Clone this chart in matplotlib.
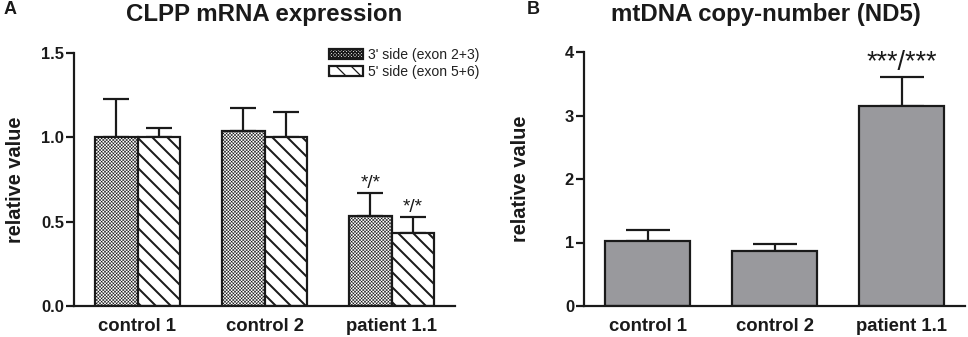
import matplotlib
matplotlib.use("Agg")
import matplotlib.pyplot as plt
import numpy as np

plt.rcParams['font.family'] = ['Liberation Sans', 'DejaVu Sans']

# ---- data ----
categories = ["control 1", "control 2", "patient 1.1"]
series_names = ["3' side (exon 2+3)", "5' side (exon 5+6)"]
clpp_3 = [1.00, 1.035, 0.533]
clpp_3_err = [0.225, 0.14, 0.134]
clpp_5 = [1.00, 1.00, 0.434]
clpp_5_err = [0.055, 0.148, 0.093]
clpp_sig = ["", "", "*/*"]
mt_vals = [1.02, 0.874, 3.145]
mt_err = [0.17, 0.10, 0.455]
mt_sig = ["", "", "***/***"]
title_a = "CLPP mRNA expression"
title_b = "mtDNA copy-number (ND5)"
ylabel = "relative value"
yticks_a = [0.0, 0.5, 1.0, 1.5]
yticks_b = [0, 1, 2, 3, 4]

W, H, DPI = 968, 337, 90
fig = plt.figure(figsize=(W / DPI, H / DPI), dpi=DPI)

def pt(px):
    return px * 72.0 / DPI

def px_axes(l, r, t, b):
    return fig.add_axes([l / W, 1 - b / H, (r - l) / W, (b - t) / H])

axA = px_axes(74, 455, 53, 306)
axB = px_axes(584, 965, 52, 306)

lw = pt(2.2)
ink = "#1a1a1a"
gray = "#99999d"

def style(ax, yticks, fmt, lab_x):
    for s in ["top", "right"]:
        ax.spines[s].set_visible(False)
    for s in ["left", "bottom"]:
        ax.spines[s].set_linewidth(lw)
        ax.spines[s].set_color(ink)
    ax.set_xlim(-0.5, 2.5)
    ax.set_yticks(yticks)
    ax.set_yticklabels([fmt.format(v) for v in yticks], fontsize=pt(16.5),
                       fontweight="bold", color=ink)
    ax.tick_params(axis="y", direction="out", length=pt(8), width=lw, pad=pt(2),
                   color=ink)
    ax.tick_params(axis="x", length=0, pad=pt(12))
    ax.set_xticks(range(len(categories)))
    ax.set_xticklabels(categories, fontsize=pt(18.5), fontweight="bold", color=ink)
    ax.set_ylabel(ylabel, fontsize=pt(20), fontweight="bold", color=ink)
    ax.yaxis.set_label_coords(lab_x, 0.5)

x = np.arange(len(categories))
bw = 0.333

# Panel A
b1 = axA.bar(x - bw / 2, clpp_3, bw, color="white", edgecolor=ink,
             linewidth=lw, hatch="x" * 9, label=series_names[0], zorder=2)
b2 = axA.bar(x + bw / 2, clpp_5, bw, color="white", edgecolor=ink,
             linewidth=lw, hatch="\\\\", label=series_names[1], zorder=2)
for bars, hlw in ((b1, pt(0.55)), (b2, pt(2.0))):
    for p in bars:
        try:
            p.set_hatch_linewidth(hlw)
        except Exception:
            pass
axA.errorbar(x - bw / 2, clpp_3, yerr=[np.zeros(3), clpp_3_err], fmt="none",
             ecolor=ink, elinewidth=lw, capsize=pt(13), capthick=lw, zorder=1)
axA.errorbar(x + bw / 2, clpp_5, yerr=[np.zeros(3), clpp_5_err], fmt="none",
             ecolor=ink, elinewidth=lw, capsize=pt(13), capthick=lw, zorder=1)
for i in range(3):
    if clpp_sig[i]:
        axA.annotate(clpp_sig[i], (x[i] - bw / 2, clpp_3[i] + clpp_3_err[i]),
                     xytext=(0, pt(1)), textcoords="offset points",
                     ha="center", va="bottom", fontsize=pt(19), color=ink)
        axA.annotate(clpp_sig[i], (x[i] + bw / 2, clpp_5[i] + clpp_5_err[i]),
                     xytext=(0, pt(1)), textcoords="offset points",
                     ha="center", va="bottom", fontsize=pt(19), color=ink)
axA.set_ylim(0, 1.5)
style(axA, yticks_a, "{:.1f}", -0.128)
leg = axA.legend(loc="upper left", bbox_to_anchor=(329 / W, 1 - 48 / H),
                 bbox_transform=fig.transFigure, frameon=False,
                 fontsize=pt(14), handlelength=2.45, handleheight=0.7,
                 handletextpad=0.3, labelspacing=0.2, borderpad=0,
                 borderaxespad=0)
for t in leg.get_texts():
    t.set_color("#222222")

# Panel B
axB.bar(x, mt_vals, 0.67, color=gray, edgecolor=ink, linewidth=lw, zorder=2)
axB.errorbar(x, mt_vals, yerr=[np.zeros(3), mt_err], fmt="none",
             ecolor=ink, elinewidth=lw, capsize=pt(22), capthick=lw, zorder=1)
for i in range(3):
    if mt_sig[i]:
        axB.annotate(mt_sig[i], (x[i], mt_vals[i] + mt_err[i]),
                     xytext=(0, pt(1)), textcoords="offset points",
                     ha="center", va="bottom", fontsize=pt(27), color=ink)
axB.set_ylim(0, 4)
style(axB, yticks_b, "{:d}", -0.142)

fig.text(264 / W, 1 - 15 / H, title_a, ha="center", va="center",
         fontsize=pt(24), fontweight="bold", color=ink)
fig.text(766 / W, 1 - 15 / H, title_b, ha="center", va="center",
         fontsize=pt(24), fontweight="bold", color=ink)
fig.text(4 / W, 1 - 9 / H, "A", ha="left", va="center", fontsize=pt(18),
         fontweight="bold", color=ink)
fig.text(527 / W, 1 - 9 / H, "B", ha="left", va="center", fontsize=pt(18),
         fontweight="bold", color=ink)

fig.savefig("out.png", dpi=DPI)
